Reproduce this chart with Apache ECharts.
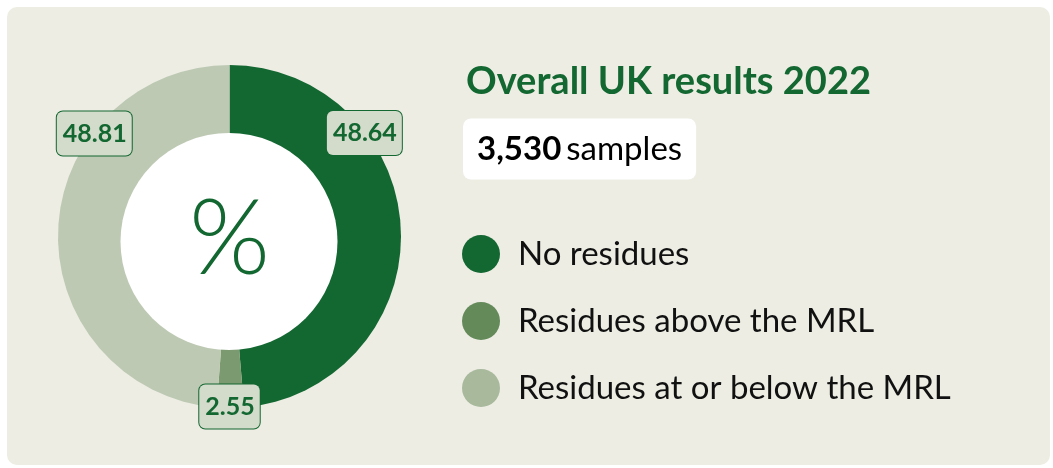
<!DOCTYPE html>
<html>
<head>
<meta charset="utf-8">
<script src="https://cdn.jsdelivr.net/npm/echarts@6/dist/echarts.min.js"></script>
<style>
html,body{margin:0;padding:0;background:#ffffff;}
#chart{width:1053px;height:468px;}
</style>
</head>
<body>
<div id="chart"></div>
<script>
// ---- data ----
var categories = ['No residues', 'Residues above the MRL', 'Residues at or below the MRL'];
var values = [48.64, 2.55, 48.81];
var sampleCount = '3,530';
var chartTitle = 'Overall UK results 2022';

// ---- styles ----
var sliceColors = ['#136731', '#7b9a6f', '#bdc9b3'];
var legendColors = ['#136731', '#648a5a', '#a8b99c'];
var FONT = 'Lato, "Noto Sans", sans-serif';
var CX = 229.5, CY = 236.5, R = 171.5;
var labelAngles = [52.5, 180, -52.7]; // degrees clockwise from top
var labelDist = 170;

var chart = echarts.init(document.getElementById('chart'), null, {renderer: 'canvas'});

var option = {
  backgroundColor: '#ffffff',
  animation: false,
  graphic: [
    {type: 'rect', z: -10, shape: {x: 7, y: 7, width: 1043, height: 458, r: 10}, style: {fill: '#edede4'}},
    {type: 'circle', z: 50, shape: {cx: 229, cy: 241.5, r: 108.5}, style: {fill: '#ffffff'}},
    {type: 'text', z: 51, x: 229.5, y: 240, style: {text: '%', fill: '#136731', font: '300 104px ' + FONT, align: 'center', verticalAlign: 'middle'}}
  ],
  title: [
    {
      text: chartTitle, left: 461, top: 58,
      textStyle: {fontFamily: FONT, fontWeight: 'bold', fontSize: 38, color: '#136731'}
    },
    {
      text: '{b|' + sampleCount + '} {r|samples}', left: 463, top: 119,
      backgroundColor: '#ffffff', borderRadius: 8, padding: [14, 14, 14, 14],
      textStyle: {
        fontWeight: 'normal',
        rich: {
          b: {fontFamily: FONT, fontWeight: 'bold', fontSize: 33, color: '#000000', lineHeight: 32},
          r: {fontFamily: FONT, fontWeight: 'normal', fontSize: 33, color: '#000000', lineHeight: 32}
        }
      }
    }
  ],
  legend: {
    orient: 'vertical', left: 457, top: 230,
    icon: 'circle', itemWidth: 38, itemHeight: 38, itemGap: 29,
    selectedMode: false,
    textStyle: {fontFamily: FONT, fontSize: 33, color: '#111111', padding: [0, 0, 0, 13]},
    data: categories.map(function (c, i) { return {name: c, itemStyle: {color: legendColors[i]}}; })
  },
  series: [{
    type: 'pie',
    center: [CX, CY], radius: [0, R],
    startAngle: 90, clockwise: true,
    silent: true,
    labelLine: {show: false},
    label: {
      show: true, position: 'inside',
      formatter: function (p) { return p.value.toFixed(2); },
      fontFamily: FONT, fontWeight: 'bold', fontSize: 25, color: '#136731',
      backgroundColor: '#d3dbca', borderColor: '#136731', borderWidth: 1, borderRadius: 6,
      padding: [10, 5, 9, 6], lineHeight: 25
    },
    labelLayout: function (params) {
      var a = labelAngles[params.dataIndex] * Math.PI / 180;
      return {x: CX + labelDist * Math.sin(a), y: CY - labelDist * Math.cos(a), align: 'center', verticalAlign: 'middle'};
    },
    z: 2,
    data: categories.map(function (c, i) { return {name: c, value: values[i], itemStyle: {color: sliceColors[i]}}; })
  }]
};
chart.setOption(option);
</script>
</body>
</html>
